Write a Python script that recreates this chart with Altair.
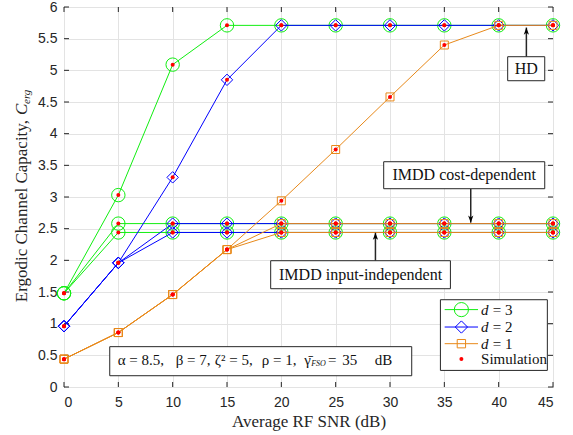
import altair as alt
import pandas as pd

# ---------------- data ----------------
snr = [0, 5, 10, 15, 20, 25, 30, 35, 40, 45]
hd_d3 = [1.48, 3.03, 5.09, 5.71, 5.71, 5.71, 5.71, 5.71, 5.71, 5.71]
hd_d2 = [0.96, 1.96, 3.31, 4.85, 5.71, 5.71, 5.71, 5.71, 5.71, 5.71]
hd_d1 = [0.44, 0.86, 1.46, 2.17, 2.94, 3.75, 4.58, 5.40, 5.71, 5.71]
cd_d3 = [1.48, 2.58, 2.58, 2.58, 2.58, 2.58, 2.58, 2.58, 2.58, 2.58]
ii_d3 = [1.48, 2.44, 2.44, 2.44, 2.44, 2.44, 2.44, 2.44, 2.44, 2.44]
cd_d2 = [0.96, 1.96, 2.58, 2.58, 2.58, 2.58, 2.58, 2.58, 2.58, 2.58]
ii_d2 = [0.96, 1.96, 2.44, 2.44, 2.44, 2.44, 2.44, 2.44, 2.44, 2.44]
cd_d1 = [0.44, 0.86, 1.46, 2.17, 2.58, 2.58, 2.58, 2.58, 2.58, 2.58]
ii_d1 = [0.44, 0.86, 1.46, 2.17, 2.44, 2.44, 2.44, 2.44, 2.44, 2.44]

x_ticks = [0, 5, 10, 15, 20, 25, 30, 35, 40, 45]
y_ticks = [0, 0.5, 1, 1.5, 2, 2.5, 3, 3.5, 4, 4.5, 5, 5.5, 6]

# annotation boxes (data coords)
ann_text = ["HD", "IMDD cost-dependent", "IMDD input-independent"]
ann_x1 = [40.83, 29.42, 19.02]
ann_x2 = [44.24, 44.24, 35.56]
ann_y1 = [5.215, 3.557, 1.994]
ann_y2 = [4.836, 3.131, 1.552]
arrow_x = [42.55, 37.43, 28.66]
arrow_tail = [5.215, 3.131, 1.994]
arrow_tip = [5.675, 2.595, 2.436]

param_box = [4.21, 32.0, 0.637, 0.178]
param_parts = ["α = 8.5,", "β = 7,", "ζ² = 5,", "ρ = 1,", "γ̄", "=", "35", "dB"]
param_part_x = [4.94, 10.28, 13.87, 18.2, 22.1, 24.3, 25.6, 28.6]
param_sub = "FSO"
param_sub_x = 22.75

legend_box = [34.64, 44.48, 1.378, 0.262]
legend_rows = [1.222, 0.947, 0.684, 0.442]
legend_d = ["= 3", "= 2", "= 1"]

GREEN = "#11ee11"
BLUE = "#0000ff"
ORANGE = "#e8891a"
DARK = "#262626"
TXT = "#111111"
SERIF = "Liberation Serif, DejaVu Serif, serif"

W, H = 489, 380

xscale = alt.Scale(domain=[0, 45], nice=False, zero=False)
yscale = alt.Scale(domain=[0, 6], nice=False, zero=False)
xaxis = alt.Axis(values=x_ticks, grid=True, gridColor="#e3e3e3", domain=False, ticks=False,
                 labelFont="Liberation Sans, Arial, sans-serif", labelFontSize=14, labelColor=DARK, labelPadding=8,
                 title="Average RF SNR (dB)", titleFont=SERIF, titleFontSize=17,
                 titleFontWeight="normal", titleColor=DARK, titlePadding=4)
yaxis = alt.Axis(values=y_ticks, grid=True, gridColor="#e3e3e3", domain=False, ticks=False,
                 labelFont="Liberation Sans, Arial, sans-serif", labelFontSize=14, labelColor=DARK, labelPadding=7,
                 format="~g", title=None)


def X(f):
    return alt.X(f, type="quantitative", scale=xscale, axis=xaxis)


def Y(f):
    return alt.Y(f, type="quantitative", scale=yscale, axis=yaxis)


def curves(lists):
    rows = []
    for name, vals in lists:
        for s, v in zip(snr, vals):
            rows.append({"x": s, "y": v, "curve": name})
    return pd.DataFrame(rows)


df3 = curves([("hd", hd_d3), ("cd", cd_d3), ("ii", ii_d3)])
df2 = curves([("hd", hd_d2), ("cd", cd_d2), ("ii", ii_d2)])
df1 = curves([("hd", hd_d1), ("cd", cd_d1), ("ii", ii_d1)])
dfall = pd.concat([df3, df2, df1])

layers = []

# inward ticks
dfxt = pd.DataFrame({"x": x_ticks})
dfyt = pd.DataFrame({"y": y_ticks})
layers.append(alt.Chart(dfxt).mark_rule(color=DARK, strokeWidth=1).encode(x=X("x"), y=alt.value(H), y2=alt.value(H - 5)))
layers.append(alt.Chart(dfxt).mark_rule(color=DARK, strokeWidth=1).encode(x=X("x"), y=alt.value(0), y2=alt.value(5)))
layers.append(alt.Chart(dfyt).mark_rule(color=DARK, strokeWidth=1).encode(y=Y("y"), x=alt.value(0), x2=alt.value(5)))
layers.append(alt.Chart(dfyt).mark_rule(color=DARK, strokeWidth=1).encode(y=Y("y"), x=alt.value(W), x2=alt.value(W - 5)))

for df, col, shape, size in [(df3, GREEN, "circle", 180), (df2, BLUE, "diamond", 130), (df1, ORANGE, "square", 64)]:
    layers.append(alt.Chart(df).mark_line(color=col, strokeWidth=1).encode(x=X("x"), y=Y("y"), detail="curve:N"))
    layers.append(alt.Chart(df).mark_point(shape=shape, size=size, color=col, filled=False, strokeWidth=1, opacity=1)
                  .encode(x=X("x"), y=Y("y")))

layers.append(alt.Chart(dfall).mark_point(shape="circle", size=16, color="red", filled=True, opacity=1)
              .encode(x=X("x"), y=Y("y")))

# annotation boxes and arrows
dfann = pd.DataFrame({"x1": ann_x1, "x2": ann_x2, "y1": ann_y1, "y2": ann_y2, "t": ann_text,
                      "xc": [(a + b) / 2 for a, b in zip(ann_x1, ann_x2)],
                      "yc": [(a + b) / 2 for a, b in zip(ann_y1, ann_y2)]})
dfarr = pd.DataFrame({"x": arrow_x, "y1": arrow_tail, "y2": arrow_tip,
                      "dir": ["up", "down", "up"]})
layers.append(alt.Chart(dfarr).mark_rule(color=DARK, strokeWidth=1.5).encode(x=X("x"), y=Y("y1"), y2="y2"))
up_path = "M0,0 L0.7,1.9 L0,1.4 L-0.7,1.9 Z"
down_path = "M0,0 L0.7,-1.9 L0,-1.4 L-0.7,-1.9 Z"
layers.append(alt.Chart(dfarr[dfarr["dir"] == "up"]).mark_point(shape=up_path, size=56, filled=True, color="black", opacity=1)
              .encode(x=X("x"), y=Y("y2")))
layers.append(alt.Chart(dfarr[dfarr["dir"] == "down"]).mark_point(shape=down_path, size=56, filled=True, color="black", opacity=1)
              .encode(x=X("x"), y=Y("y2")))
layers.append(alt.Chart(dfann).mark_rect(fill="white", stroke=DARK, strokeWidth=1)
              .encode(x=X("x1"), x2="x2", y=Y("y1"), y2="y2"))
layers.append(alt.Chart(dfann).mark_text(font=SERIF, fontSize=16, color=TXT)
              .encode(x=X("xc"), y=Y("yc"), text="t:N"))

# parameter box
dfp = pd.DataFrame({"x1": [param_box[0]], "x2": [param_box[1]], "y1": [param_box[2]], "y2": [param_box[3]]})
layers.append(alt.Chart(dfp).mark_rect(fill="white", stroke=DARK, strokeWidth=1)
              .encode(x=X("x1"), x2="x2", y=Y("y1"), y2="y2"))
pyc = 0.42
dfpt = pd.DataFrame({"x": param_part_x, "y": [pyc] * len(param_parts), "t": param_parts})
layers.append(alt.Chart(dfpt).mark_text(font=SERIF, fontSize=15, align="left", baseline="middle", color=TXT)
              .encode(x=X("x"), y=Y("y"), text="t:N"))
dfps = pd.DataFrame({"x": [param_sub_x], "y": [pyc - 0.05], "t": [param_sub]})
layers.append(alt.Chart(dfps).mark_text(font=SERIF, fontSize=8, fontStyle="italic", align="left", baseline="middle", color=TXT)
              .encode(x=X("x"), y=Y("y"), text="t:N"))

# legend
dfl = pd.DataFrame({"x1": [legend_box[0]], "x2": [legend_box[1]], "y1": [legend_box[2]], "y2": [legend_box[3]]})
layers.append(alt.Chart(dfl).mark_rect(fill="white", stroke=DARK, strokeWidth=1)
              .encode(x=X("x1"), x2="x2", y=Y("y1"), y2="y2"))
for i, (col, shape, size) in enumerate([(GREEN, "circle", 200), (BLUE, "diamond", 150), (ORANGE, "square", 70)]):
    dseg = pd.DataFrame({"x1": [35.03], "x2": [38.1], "y": [legend_rows[i]], "xm": [36.57]})
    layers.append(alt.Chart(dseg).mark_rule(color=col, strokeWidth=1).encode(x=X("x1"), x2="x2", y=Y("y")))
    layers.append(alt.Chart(dseg).mark_point(shape=shape, size=size, color=col, filled=False, strokeWidth=1, opacity=1)
                  .encode(x=X("xm"), y=Y("y")))
dld = pd.DataFrame({"x": [38.38] * 3, "y": legend_rows[:3], "t": ["d"] * 3})
layers.append(alt.Chart(dld).mark_text(font=SERIF, fontSize=15, fontStyle="italic", align="left", baseline="middle", color=TXT)
              .encode(x=X("x"), y=Y("y"), text="t:N"))
dle = pd.DataFrame({"x": [39.45] * 3, "y": legend_rows[:3], "t": legend_d})
layers.append(alt.Chart(dle).mark_text(font=SERIF, fontSize=15, align="left", baseline="middle", color=TXT)
              .encode(x=X("x"), y=Y("y"), text="t:N"))
dls = pd.DataFrame({"x": [36.57], "y": [legend_rows[3]], "tx": [38.38], "t": ["Simulation"]})
layers.append(alt.Chart(dls).mark_point(shape="circle", size=16, color="red", filled=True, opacity=1)
              .encode(x=X("x"), y=Y("y")))
layers.append(alt.Chart(dls).mark_text(font=SERIF, fontSize=15, align="left", baseline="middle", color=TXT)
              .encode(x=X("tx"), y=Y("y"), text="t:N"))

# manual y title
dft = pd.DataFrame({"a": [0]})
layers.append(alt.Chart(dft).mark_text(font=SERIF, fontSize=17, angle=270, align="right", baseline="middle", color=DARK)
              .encode(x=alt.value(-42), y=alt.value(113), text=alt.value("Ergodic Channel Capacity,")))
layers.append(alt.Chart(dft).mark_text(font=SERIF, fontSize=17, fontStyle="italic", angle=270, align="left", baseline="middle", color=DARK)
              .encode(x=alt.value(-42), y=alt.value(108), text=alt.value("C")))
layers.append(alt.Chart(dft).mark_text(font=SERIF, fontSize=11, fontStyle="italic", angle=270, align="left", baseline="middle", color=DARK)
              .encode(x=alt.value(-37), y=alt.value(97), text=alt.value("erg")))

chart = alt.layer(*layers).properties(
    width=W, height=H,
    autosize=alt.AutoSizeParams(type="none"),
    padding={"left": 64, "top": 7, "right": 20, "bottom": 48},
    background="white",
).configure_view(stroke=DARK, strokeWidth=1)

chart.save("out.html", embed_options={"renderer": "svg", "actions": False})
